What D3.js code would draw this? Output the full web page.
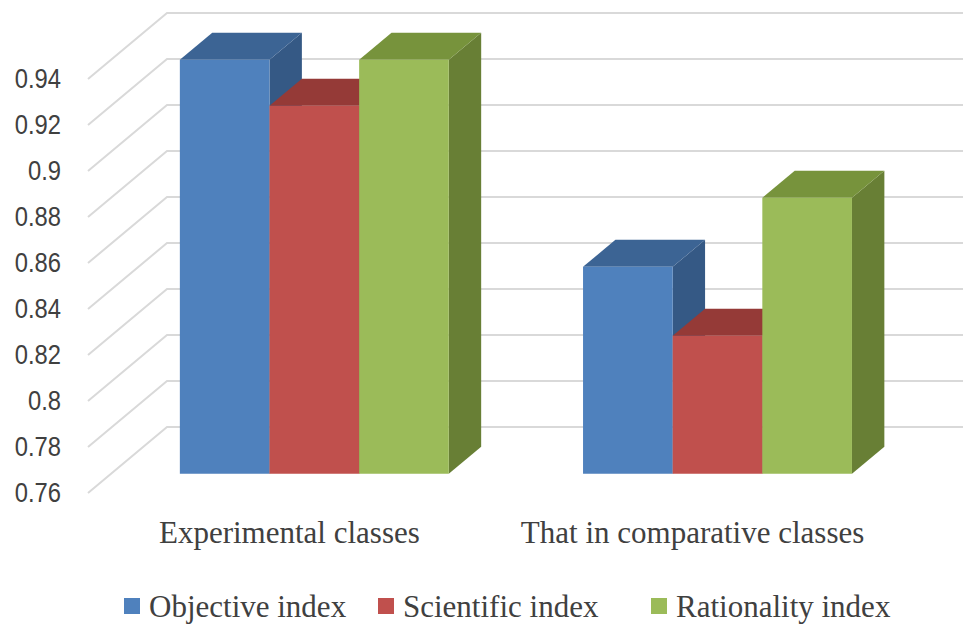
<!DOCTYPE html>
<html>
<head>
<meta charset="utf-8">
<script src="https://cdn.jsdelivr.net/npm/d3@7/dist/d3.min.js"></script>
<style>
  html, body { margin: 0; padding: 0; background: #ffffff; }
  svg { display: block; }
</style>
</head>
<body>
<svg id="chart" width="963" height="626"></svg>
<script>
// ---- data ----
const categories = ["Experimental classes", "That in comparative classes"];
const seriesNames = ["Objective index", "Scientific index", "Rationality index"];
const objectiveIndex = [0.94, 0.85];
const scientificIndex = [0.92, 0.82];
const rationalityIndex = [0.94, 0.88];
const yTickValues = [0.76, 0.78, 0.8, 0.82, 0.84, 0.86, 0.88, 0.9, 0.92, 0.94];

const seriesValues = [objectiveIndex, scientificIndex, rationalityIndex];

// ---- styles ----
const frontColors = ["#4f81bd", "#c0504d", "#9bbb59"];
const topColors   = ["#3c6494", "#953a37", "#77933c"];
const sideColors  = ["#355985", "#86322f", "#687f35"];
const gridColor = "#d9d9d9";
const textColor = "#404040";

// ---- oblique 3D projection ----
const DX = 79, DY = 66;            // screen offset of the full depth (front -> back wall)
const zFront = 0.29, zBack = 0.70; // depth slab occupied by the columns
const W = 963;

const svg = d3.select("#chart");

const y = d3.scaleLinear().domain([0.76, 0.94]).range([493, 79]);
const x0 = d3.scaleBand().domain(categories).range([88, 898])
  .paddingInner(0.333).paddingOuter(0.171);
const x1 = d3.scaleBand().domain(seriesNames).range([0, x0.bandwidth()]);

const px = (x, z) => x + z * DX;
const py = (v, z) => y(v) - z * DY;
const baseValue = y.domain()[0];

// ---- side wall + back wall gridlines ----
const xLeft = x0.range()[0];
svg.append("g")
  .selectAll("path")
  .data(yTickValues)
  .join("path")
  .attr("d", v => `M${px(xLeft, 0)},${py(v, 0)} L${px(xLeft, 1)},${py(v, 1)} L${W + 5},${py(v, 1)}`)
  .attr("fill", "none")
  .attr("stroke", gridColor)
  .attr("stroke-width", 2);

// ---- value axis labels ----
const labelSqueeze = 0.88;
const yAxis = d3.axisLeft(y)
  .tickValues(yTickValues)
  .tickSize(0)
  .tickPadding(27)
  .tickFormat(d => String(+d.toFixed(2)));

const axisG = svg.append("g")
  .attr("transform", `translate(${xLeft},0)`)
  .call(yAxis);
axisG.select(".domain").remove();
axisG.selectAll("text")
  .attr("x", -27 / labelSqueeze)
  .attr("transform", `scale(${labelSqueeze},1)`)
  .attr("fill", textColor)
  .style("font-family", "'Liberation Sans', Arial, sans-serif")
  .style("font-size", "27px");

// ---- columns ----
const bars = [];
categories.forEach((cat, i) => {
  seriesNames.forEach((s, j) => {
    bars.push({ cat, s, j, v: seriesValues[j][i] });
  });
});

const poly = pts => "M" + pts.map(p => p.join(",")).join("L") + "Z";

const barG = svg.append("g")
  .selectAll("g")
  .data(bars)
  .join("g");

barG.each(function (d) {
  const g = d3.select(this);
  const xa = x0(d.cat) + x1(d.s);
  const xb = xa + x1.bandwidth();
  // right side face
  g.append("path")
    .attr("d", poly([
      [px(xb, zFront), py(d.v, zFront)],
      [px(xb, zBack), py(d.v, zBack)],
      [px(xb, zBack), py(baseValue, zBack)],
      [px(xb, zFront), py(baseValue, zFront)]
    ]))
    .attr("fill", sideColors[d.j]);
  // top face
  g.append("path")
    .attr("d", poly([
      [px(xa, zFront), py(d.v, zFront)],
      [px(xb, zFront), py(d.v, zFront)],
      [px(xb, zBack), py(d.v, zBack)],
      [px(xa, zBack), py(d.v, zBack)]
    ]))
    .attr("fill", topColors[d.j]);
  // front face
  g.append("path")
    .attr("d", poly([
      [px(xa, zFront), py(d.v, zFront)],
      [px(xb, zFront), py(d.v, zFront)],
      [px(xb, zFront), py(baseValue, zFront)],
      [px(xa, zFront), py(baseValue, zFront)]
    ]))
    .attr("fill", frontColors[d.j]);
});

// ---- category labels ----
svg.append("g")
  .selectAll("text")
  .data(categories)
  .join("text")
  .attr("x", d => x0(d) + x0.bandwidth() / 2 - 2)
  .attr("y", 543)
  .attr("text-anchor", "middle")
  .attr("fill", textColor)
  .style("font-family", "'Liberation Serif', 'Times New Roman', serif")
  .style("font-size", "31px")
  .text(d => d);

// ---- legend ----
const legendX = [124, 378, 651];
const legend = svg.append("g")
  .selectAll("g")
  .data(seriesNames)
  .join("g")
  .attr("transform", (d, i) => `translate(${legendX[i]},0)`);

legend.append("rect")
  .attr("x", 0)
  .attr("y", 598)
  .attr("width", 16)
  .attr("height", 16)
  .attr("fill", (d, i) => frontColors[i]);

legend.append("text")
  .attr("x", 25)
  .attr("y", 617)
  .attr("fill", textColor)
  .style("font-family", "'Liberation Serif', 'Times New Roman', serif")
  .style("font-size", "31px")
  .text(d => d);
</script>
</body>
</html>
